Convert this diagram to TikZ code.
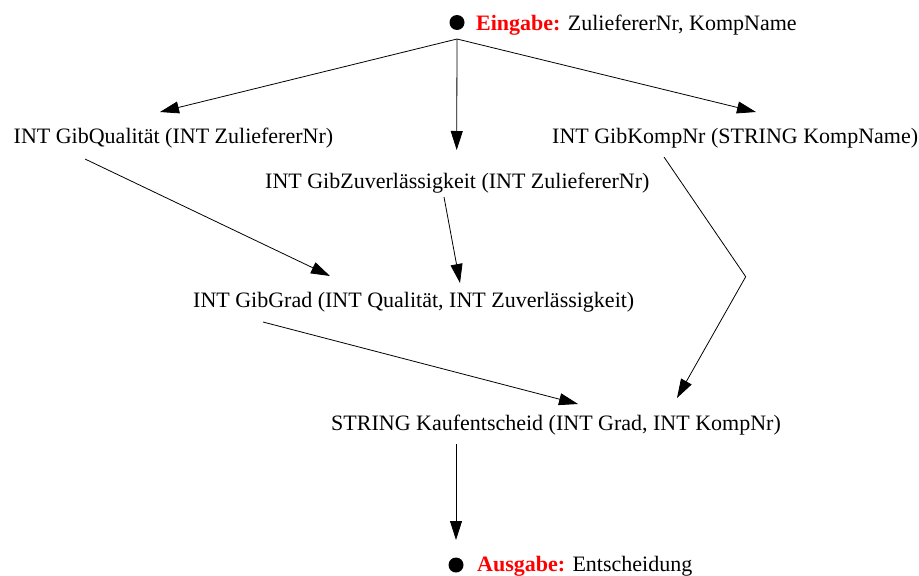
\documentclass[tikz,border=0pt]{standalone}
\usepackage{fontspec}
\setmainfont{Liberation Serif}
\usetikzlibrary{arrows.meta,calc}
\begin{document}
\begin{tikzpicture}[x=1pt,y=-1pt,
  font=\fontsize{22}{26}\selectfont,
  lbl/.style={anchor=base west, inner sep=0pt},
  dot/.style={circle, fill=black, inner sep=0pt, minimum size=15pt},
  arr/.style={-{Triangle[length=19pt,width=12pt]}, line width=0.8pt},
  kw/.style={}]
\useasboundingbox (0,0) rectangle (919,576);
% nodes
\node[dot] (inb) at (457,22.5) {};
\node[lbl] (in) at (476,30) {\textcolor{red}{\bfseries Eingabe:} ZuliefererNr, KompName};
\node[lbl] (q) at (13.5,143) {INT GibQualität (INT ZuliefererNr)};
\node[lbl] (k) at (552,143) {INT GibKompNr (STRING KompName)};
\node[lbl] (z) at (265,188) {INT GibZuverlässigkeit (INT ZuliefererNr)};
\node[lbl] (g) at (193,307) {INT GibGrad (INT Qualität, INT Zuverlässigkeit)};
\node[lbl] (e) at (331,430) {STRING Kaufentscheid (INT Grad, INT KompNr)};
\node[dot] (outb) at (456,565) {};
\node[lbl] (out) at (477,571) {\textcolor{red}{\bfseries Ausgabe:} Entscheidung};
% helper coordinates
\coordinate (split) at ($(inb.center)+(0,16.5)$);
\coordinate (bend) at (745.7,276.7);
% connectors
\draw[arr] (split) -- ($(q.base west)+(146.5,-31)$);
\draw[arr] (split) -- ($(z.base west)+(191.7,-38)$);
\draw[arr] (split) -- ($(k.base west)+(204,-31)$);
\draw[arr] ($(q.base west)+(71.5,16)$) -- ($(g.base west)+(137,-31)$);
\draw[arr] ($(z.base west)+(179,9)$) -- ($(g.base west)+(267,-24)$);
\draw[arr] ($(k.base west)+(112,14)$) -- (bend) -- ($(e.base west)+(346,-32)$);
\draw[arr] ($(g.base west)+(70,15)$) -- ($(e.base west)+(247,-26)$);
\draw[arr] ($(e.base west)+(125,14)$) -- ($(outb.center)+(0,-25)$);
\end{tikzpicture}
\end{document}
